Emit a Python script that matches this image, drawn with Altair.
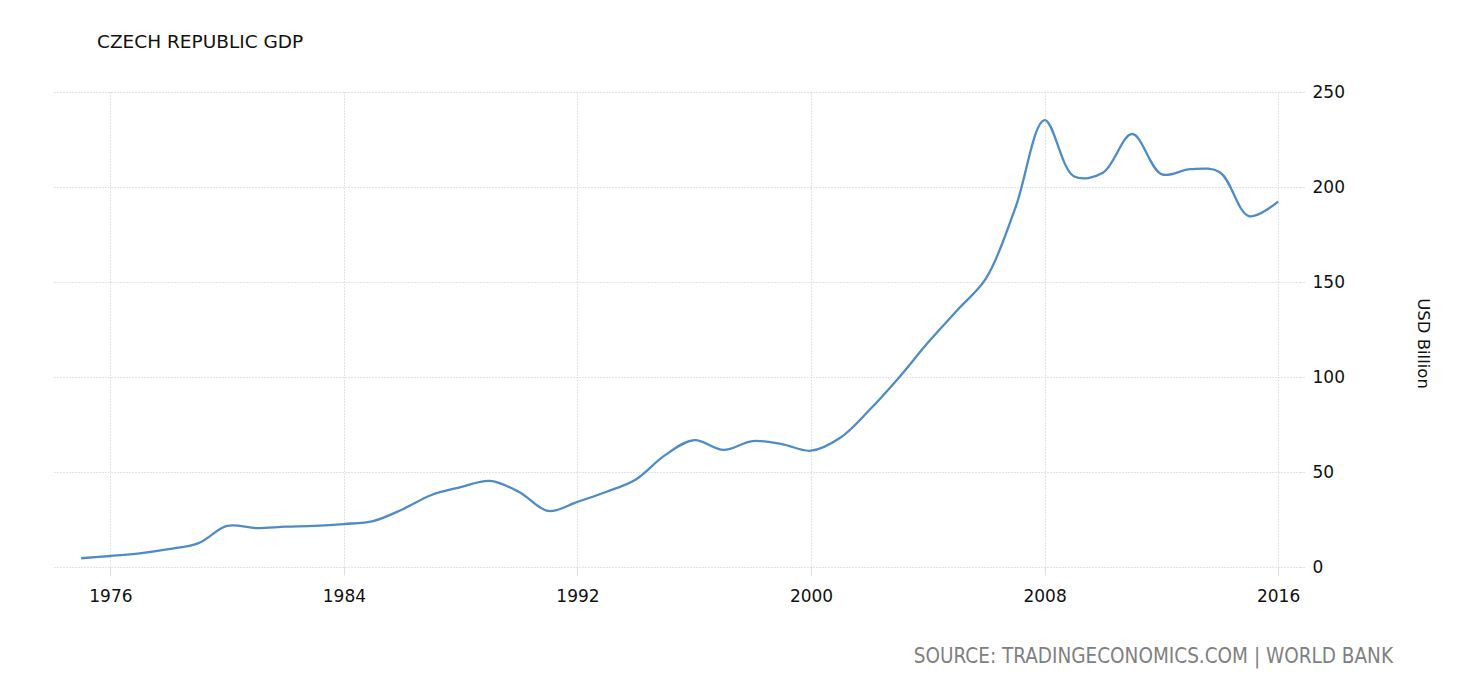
import altair as alt
import pandas as pd

years = list(range(1975, 2017))
gdp = [4.6, 5.8, 7.2, 9.4, 12.4, 21.6, 20.5, 21.2, 21.6, 22.6,
       24.2, 30.3, 37.9, 42.0, 45.3, 39.5, 29.5, 34.3, 39.6, 46.1,
       58.9, 66.8, 61.6, 66.3, 64.7, 61.2, 68.0, 82.6, 99.5, 118.0,
       135.0, 152.0, 189.0, 235.2, 205.7, 207.5, 227.9, 206.8, 209.4, 207.8,
       184.7, 192.3]

x_ticks = [1976, 1984, 1992, 2000, 2008, 2016]
y_ticks = [0, 50, 100, 150, 200, 250]

title_text = "CZECH REPUBLIC GDP"
source_text = "SOURCE: TRADINGECONOMICS.COM | WORLD BANK"
y_title = "USD Billion"

df = pd.DataFrame({"year": years, "gdp": gdp})

W, H = 1248, 475
FONT = "DejaVu Sans"
GRID = "#c8c8c8"

line = alt.Chart(df).mark_line(
    color="#4f8bc4", strokeWidth=2.3, interpolate="catmull-rom"
).encode(
    x=alt.X("year:Q",
            scale=alt.Scale(domain=[1974, 2016.75], nice=False, zero=False),
            axis=alt.Axis(values=x_ticks, format="d", title=None,
                          grid=True, gridColor=GRID, gridDash=[1, 2],
                          domain=False, ticks=True, tickSize=8, tickColor="#dddddd",
                          labelFont=FONT, labelFontSize=17, labelColor="#111111",
                          labelPadding=13, labelBaseline="top")),
    y=alt.Y("gdp:Q",
            scale=alt.Scale(domain=[0, 250], nice=False),
            axis=alt.Axis(orient="right", values=y_ticks, title=y_title,
                          grid=True, gridColor=GRID, gridDash=[1, 2],
                          domain=False, ticks=True, tickSize=5, tickColor=GRID,
                          tickDash=[1, 2],
                          labelFont=FONT, labelFontSize=17, labelColor="#111111",
                          labelPadding=7, labelAlign="left", labelBaseline="middle",
                          titleFont=FONT, titleFontSize=16.5, titleColor="#111111",
                          titleFontWeight="normal", titleAngle=90,
                          titleX=122, titleY=251, titleAlign="center",
                          titleBaseline="middle")),
)

title = alt.Chart(pd.DataFrame({"t": [title_text]})).mark_text(
    font=FONT, fontSize=18.5, color="#111111", align="left", baseline="middle"
).encode(x=alt.value(45), y=alt.value(-50), text="t:N")

source = alt.Chart(pd.DataFrame({"t": [source_text]})).mark_text(
    font="DejaVu Sans Condensed", fontSize=20.5, color="#808080", align="right",
    baseline="middle"
).encode(x=alt.value(1341), y=alt.value(565), text="t:N")

chart = alt.layer(line, title, source).properties(
    width=W, height=H,
    autosize=alt.AutoSizeParams(type="none"),
    padding={"left": 44, "top": 84, "right": 160, "bottom": 104},
).configure_view(strokeWidth=0, stroke="transparent")

chart.save("out.html", embed_options={"renderer": "svg", "actions": False})
